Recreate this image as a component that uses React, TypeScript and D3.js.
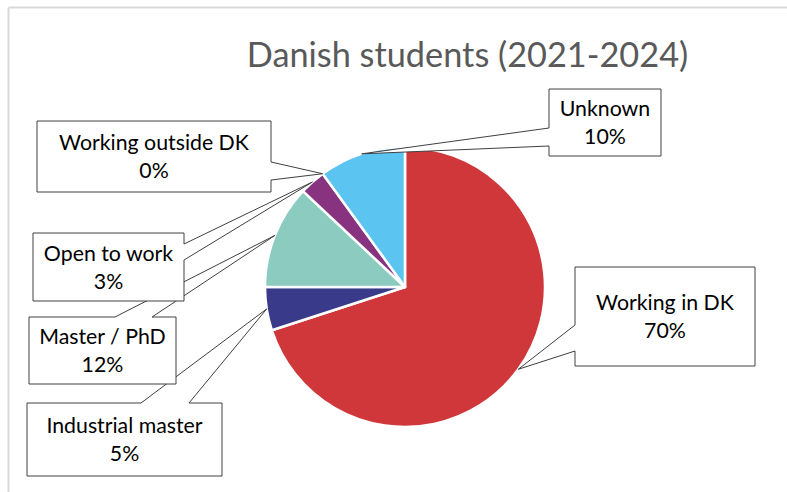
import React from "react";
import * as d3 from "d3";

// ---- data ----
const categories = ["Working in DK", "Industrial master", "Master / PhD", "Open to work", "Working outside DK", "Unknown"];
const values = [70, 5, 12, 3, 0, 10];
const percentLabels = ["70%", "5%", "12%", "3%", "0%", "10%"];
const colors = ["#D0373A", "#393B8A", "#8BCBC0", "#87337F", "#8B3A8F", "#5BC4F1"];
const title = "Danish students (2021-2024)";

// ---- layout (callout boxes) ----
type Box = { x0: number; y0: number; x1: number; y1: number; side: "left" | "right" | "top"; a: number; b: number };
const boxes: Box[] = [
  { x0: 575, y0: 267, x1: 755, y1: 366, side: "left", a: 325, b: 351 },
  { x0: 27, y0: 403, x1: 222, y1: 476, side: "top", a: 141, b: 189 },
  { x0: 29, y0: 317, x1: 176, y1: 384, side: "top", a: 115, b: 152 },
  { x0: 33, y0: 233, x1: 184, y1: 301, side: "right", a: 244, b: 260 },
  { x0: 37, y0: 121, x1: 271, y1: 192, side: "right", a: 162, b: 180 },
  { x0: 549, y0: 89, x1: 661, y1: 156, side: "left", a: 128, b: 146 },
];

const W = 787;
const H = 492;
const cx = 405;
const cy = 287;
const R = 140;

function calloutPath(bx: Box, tx: number, ty: number): string {
  const { x0, y0, x1, y1, side, a, b } = bx;
  const p: string[] = [`M${x0},${y0}`];
  if (side === "top") p.push(`L${a},${y0}`, `L${tx},${ty}`, `L${b},${y0}`);
  p.push(`L${x1},${y0}`);
  if (side === "right") p.push(`L${x1},${a}`, `L${tx},${ty}`, `L${x1},${b}`);
  p.push(`L${x1},${y1}`, `L${x0},${y1}`);
  if (side === "left") p.push(`L${x0},${b}`, `L${tx},${ty}`, `L${x0},${a}`);
  p.push("Z");
  return p.join(" ");
}

export default function App() {
  const pie = d3.pie<number>().sort(null).value((d) => d);
  const arcs = pie(values);
  const arc = d3.arc<d3.PieArcDatum<number>>().innerRadius(0).outerRadius(R);
  const font = "Lato, 'Open Sans', sans-serif";

  return (
    <svg width={W} height={H} style={{ position: "absolute", left: 0, top: 0, background: "#fff" }}>
      <rect x={0} y={0} width={W} height={H} fill="#fff" />
      {/* chart frame */}
      <line x1={8.5} y1={7.5} x2={W} y2={7.5} stroke="#D9D9D9" strokeWidth={2} />
      <line x1={8.5} y1={7.5} x2={8.5} y2={H} stroke="#D9D9D9" strokeWidth={2} />
      <text x={467.5} y={67} textAnchor="middle" fontFamily={font} fontSize={34.3} fill="#595959">
        {title}
      </text>
      <g transform={`translate(${cx},${cy})`}>
        {arcs.map((d, i) =>
          d.value > 0 ? (
            <path key={i} d={arc(d) || ""} fill={colors[i]} stroke="#fff" strokeWidth={2.5} strokeLinejoin="round" />
          ) : null
        )}
      </g>
      {arcs.map((d, i) => {
        const mid = (d.startAngle + d.endAngle) / 2;
        const tx = cx + R * Math.sin(mid);
        const ty = cy - R * Math.cos(mid);
        const bx = boxes[i];
        const mx = (bx.x0 + bx.x1) / 2;
        const my = (bx.y0 + bx.y1) / 2;
        return (
          <g key={i}>
            <path d={calloutPath(bx, tx, ty)} fill="#fff" stroke="#404040" strokeWidth={1} />
            <text x={mx} y={my - 6.5} textAnchor="middle" fontFamily={font} fontSize={21.3} fill="#000">
              {categories[i]}
            </text>
            <text x={mx} y={my + 21.5} textAnchor="middle" fontFamily={font} fontSize={21.3} fill="#000">
              {percentLabels[i]}
            </text>
          </g>
        );
      })}
    </svg>
  );
}
